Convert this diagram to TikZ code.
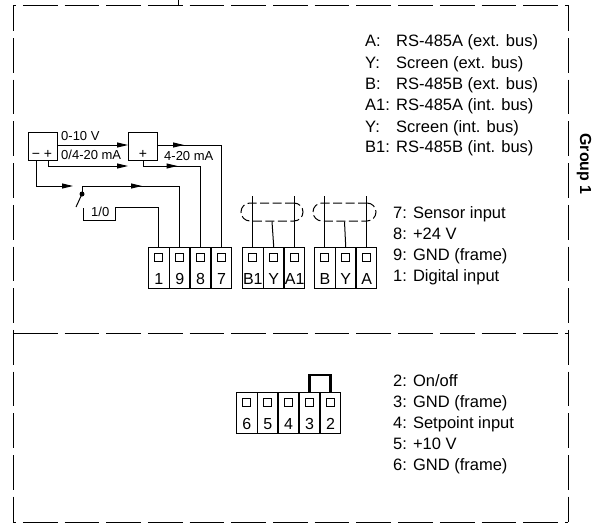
\documentclass[tikz,border=0pt]{standalone}
\usepackage{fontspec}
\setmainfont{Liberation Sans}
\usetikzlibrary{positioning,matrix,arrows.meta,calc,decorations.markings}

\tikzset{
    wire/.style={line width=1pt, line join=miter},
    midtip/.style={postaction={decorate, decoration={markings,
        mark=at position #1 with {\arrow{Triangle[length=11pt,width=5pt]}}}}},
    endtip/.style={-{Triangle[length=11pt,width=5pt]}},
    framedash/.style={line width=1pt, dash pattern=on 34.7pt off 7pt, dash phase=#1},
    termcell/.style={draw, line width=1pt, minimum width=20.3pt, minimum height=41pt,
        inner sep=0pt, text height=32pt, text depth=0pt, font=\fontsize{16}{16}\selectfont},
    termhole/.style={draw, line width=1pt, minimum size=8pt, inner sep=0pt},
    sensebox/.style={draw, line width=1pt, minimum width=29pt, minimum height=28pt, inner sep=0pt},
    shieldbox/.style={draw, line width=1pt, minimum height=18pt, rounded corners=9pt,
        inner sep=0pt, dash pattern=on 9pt off 3.5pt},
    wirelabel/.style={anchor=base west, inner sep=0pt, font=\fontsize{13}{13}\selectfont},
    signlabel/.style={anchor=base, inner sep=0pt, font=\fontsize{14}{14}\selectfont},
    listlabel/.style={anchor=base west, inner sep=0pt, font=\fontsize{16.5}{16.5}\selectfont},
}

\begin{document}
\begin{tikzpicture}[x=1pt,y=-1pt]
\useasboundingbox (0,0) rectangle (595,523);

% frame
\draw[framedash=31.9] (13,5) -- (568,5);
\draw[framedash=31.9] (13,522) -- (568,522);
\draw[framedash=31.9] (13,333) -- (568,333);
\draw[wire] (13,333) -- (23,333);
\draw[framedash=8.7] (13,5) -- (13,522);
\draw[framedash=8.7] (568,5) -- (568,522);
\draw[wire] (178,0) -- (178,5);

% terminal blocks
\matrix (TS) at (148,247) [anchor=north west, matrix of nodes, nodes={termcell},
    column sep=-\pgflinewidth, inner sep=0pt]{
    1 & 9 & 8 & 7\\};
\matrix (TI) at (242,247) [anchor=north west, matrix of nodes, nodes={termcell},
    column sep=-\pgflinewidth, inner sep=0pt]{
    B1 & Y & A1\\};
\matrix (TE) at (314,247) [anchor=north west, matrix of nodes, nodes={termcell},
    column sep=-\pgflinewidth, inner sep=0pt]{
    B & Y & A\\};
\matrix (TP) at (236,392) [anchor=north west, matrix of nodes, nodes={termcell},
    column sep=-\pgflinewidth, inner sep=0pt]{
    6 & 5 & 4 & 3 & 2\\};

\foreach \i in {1,...,4}
    \node[termhole] (TS-h\i) at ($(TS-1-\i.north)+(0,10.5)$) {};
\foreach \i in {1,...,3}
    \node[termhole] (TI-h\i) at ($(TI-1-\i.north)+(0,10.5)$) {};
\foreach \i in {1,...,3}
    \node[termhole] (TE-h\i) at ($(TE-1-\i.north)+(0,10.5)$) {};
\foreach \i in {1,...,5}
    \node[termhole] (TP-h\i) at ($(TP-1-\i.north)+(0,10.5)$) {};

% jumper
\draw[line width=2.2pt] (TP-1-4.north) -- ++(0,-17) -| (TP-1-5.north);

% sensors
\node[sensebox] (sensA) at (42.5,146) {};
\node[sensebox] (sensB) at (143,146) {};
\node[signlabel] (minusA) at (36,158) {−};
\node[signlabel] (plusA) at (48,158) {+};
\node[signlabel] (plusB) at (143,158) {+};
\node[wirelabel] (volt) at (61,140) {0-10 V};
\node[wirelabel] (ampA) at (61,159) {0/4-20 mA};
\node[wirelabel] (ampB) at (164,160) {4-20 mA};

% wires
\draw[wire, endtip] (sensA.east |- 0,145) -- (sensB.west |- 0,145);
\draw[wire, endtip] (sensA.south -| plusA) |- (128,166);
\draw[wire, endtip] (sensA.south -| minusA) |- (73,186);
\draw[wire, midtip=26pt] (sensB.east |- 0,145) -| (TS-1-4.north);
\draw[wire, midtip=40pt] (sensB.south) |- (TS-1-3.north |- 0,166) -- (TS-1-3.north);
\coordinate (swdot) at (82,194);
\coordinate (swarm) at (76,207);
\fill (swdot) circle (2.5pt);
\draw[wire] (swdot) -- (swarm);
\draw[wire, midtip=68pt] (swdot) |- (TS-1-2.north |- 0,186) -- (TS-1-2.north);
\draw[wire] (83,208) |- (115,220) |- (TS-1-1.north |- 0,207) -- (TS-1-1.north);
\node[wirelabel] (swlabel) at (91,216) {1/0};

% shields
\node[shieldbox, minimum width=62pt] (shI) at (272,212) {};
\node[shieldbox, minimum width=63pt] (shE) at (344.5,212) {};
\coordinate (topI) at (0,196);
\draw[wire] (TI-1-1.north) -- (TI-1-1.north |- topI);
\draw[wire] (TI-1-3.north) -- (TI-1-3.north |- topI);
\draw[wire] (TI-1-2.north) -- (shI.south);
\draw[wire] (TE-1-1.north) -- (TE-1-1.north |- topI);
\draw[wire] (TE-1-3.north) -- (TE-1-3.north |- topI);
\draw[wire] (TE-1-2.north) -- (shE.south);

% lists
\foreach \k/\v/\y [count=\i] in {A:/RS-485A (ext. bus)/46, Y:/Screen (ext. bus)/68,
    B:/RS-485B (ext. bus)/89, A1:/RS-485A (int. bus)/110,
    Y:/Screen (int. bus)/132, B1:/RS-485B (int. bus)/152}{
    \node[listlabel] (busk\i) at (365,\y) {\k};
    \node[listlabel] (busv\i) at (396,\y) {\v};
}
\foreach \v/\y [count=\i] in {7: Sensor input/218, 8: +24 V/239,
    9: GND (frame)/260, 1: Digital input/281}
    \node[listlabel] (sig\i) at (393,\y) {\v};
\foreach \v/\y [count=\i] in {{2: On/off}/386, 3: GND (frame)/407,
    4: Setpoint input/428, 5: +10 V/449, 6: GND (frame)/470}
    \node[listlabel] (fun\i) at (393,\y) {\v};

\node[rotate=-90, inner sep=0pt, font=\fontsize{16}{16}\selectfont\bfseries] (group) at (584,164) {Group 1};
\end{tikzpicture}
\end{document}
